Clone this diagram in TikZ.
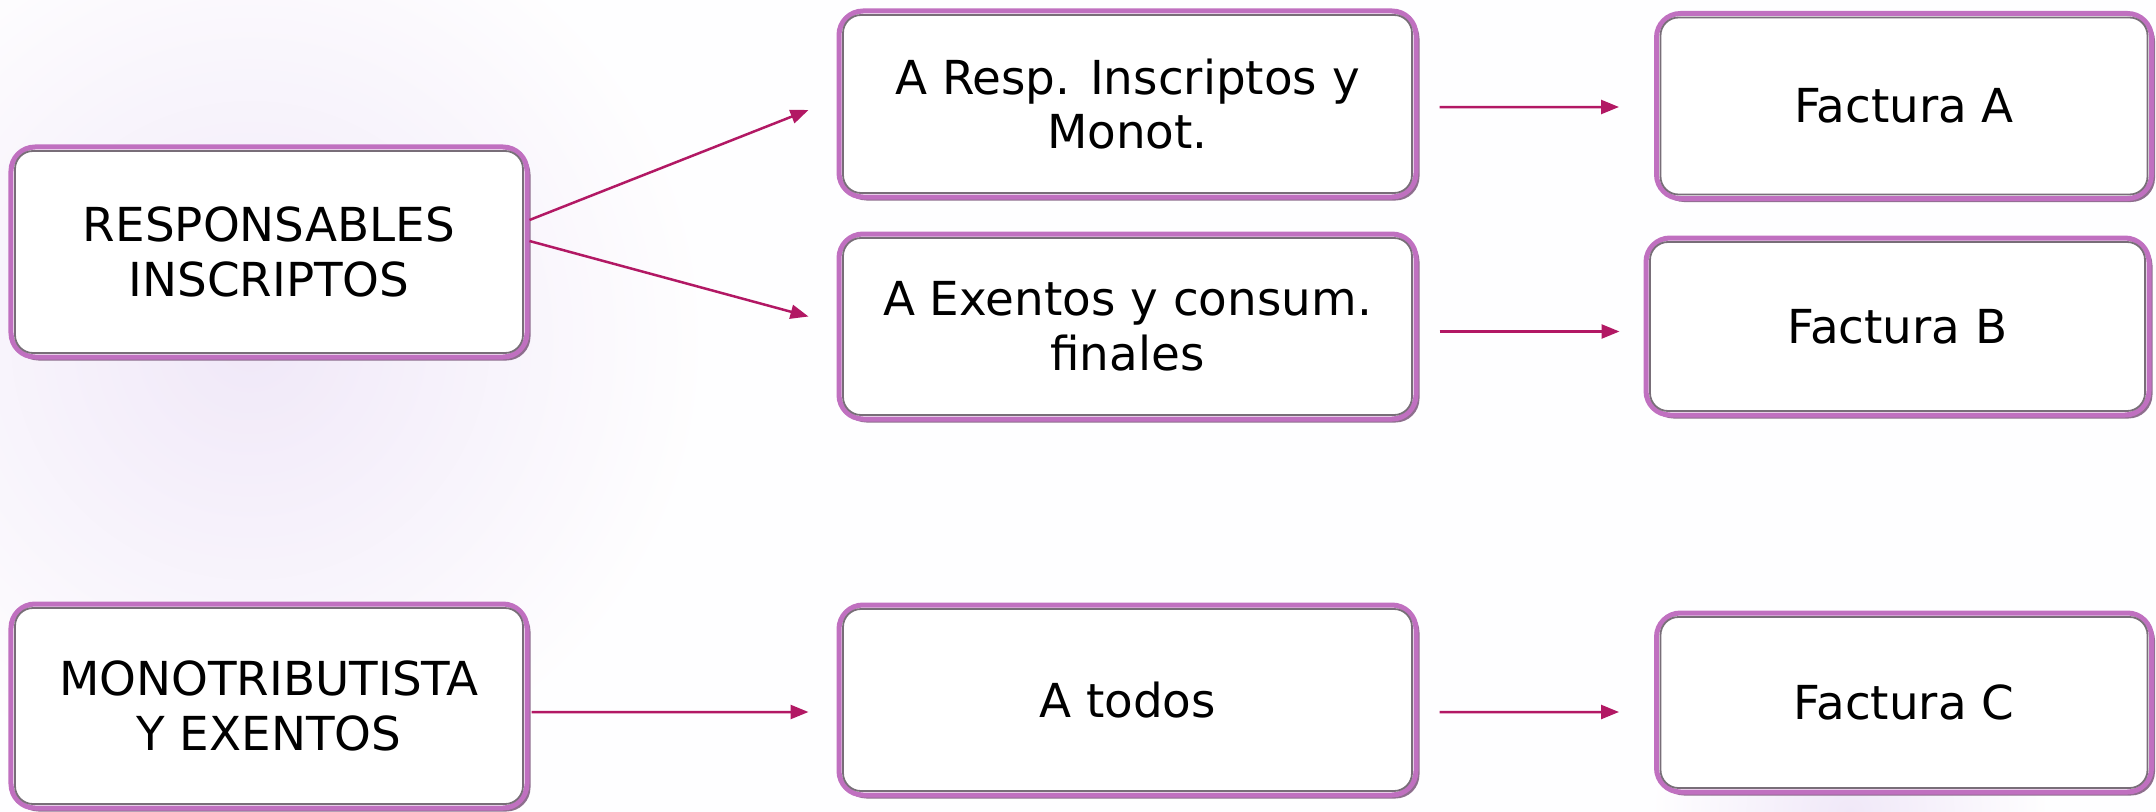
\documentclass[tikz,border=0pt]{standalone}
\usepackage{fontspec}
\setmainfont{DejaVu Sans}
\usetikzlibrary{arrows.meta,shadows}
\definecolor{arrowc}{RGB}{178,24,100}
\definecolor{boxpurple}{RGB}{192,112,192}
\definecolor{shadowc}{RGB}{130,95,130}
\definecolor{innergray}{RGB}{120,110,120}
\definecolor{glow}{RGB}{240,232,248}
\tikzset{
  box/.style={draw=boxpurple, line width=5bp, fill=white, rounded corners=24bp,
    align=center, inner sep=0pt, font=\fontsize{47}{55}\selectfont,
    drop shadow={shadow xshift=3.5bp, shadow yshift=-3.5bp, fill=shadowc, opacity=0.9}},
  arr/.style={draw=arrowc, line width=2.5bp, -{Triangle[length=18bp,width=14bp]}},
  inline/.style={draw=innergray, line width=1.8bp, rounded corners=18bp}
}
\begin{document}
\begin{tikzpicture}[x=1bp,y=-1bp]
\useasboundingbox (0,0) rectangle (2156,812);
\fill[white!96!glow] (0,0) rectangle (2156,812);
\shade[inner color=glow, outer color=white!96!glow] (250,340) circle (460);
\shade[inner color=glow, outer color=white!96!glow] (1850,812) circle (200);

\node[box, minimum width=516bp, minimum height=210bp] (b1) at (269,252) {RESPONSABLES\\INSCRIPTOS};
\node[box, minimum width=577bp, minimum height=186bp] (b2) at (1127.5,104) {A Resp. Inscriptos y\\Monot.};
\node[box, minimum width=495bp, minimum height=185bp] (b3) at (1904,106) {Factura A};
\node[box, minimum width=577bp, minimum height=185bp] (b4) at (1127.5,326.5) {A Exentos y consum.\\finales};
\node[box, minimum width=503bp, minimum height=177bp] (b5) at (1897.5,326.5) {Factura B};
\node[box, minimum width=516bp, minimum height=204bp] (b6) at (269,706) {MONOTRIBUTISTA\\Y EXENTOS};
\node[box, minimum width=577bp, minimum height=190bp] (b7) at (1127.5,700) {A todos};
\node[box, minimum width=495bp, minimum height=179bp] (b8) at (1904,702.5) {Factura C};

\foreach \n in {b1,b2,b3,b4,b5,b6,b7,b8}{
  \draw[inline] ([xshift=6.5bp,yshift=-6.5bp]\n.north west) rectangle ([xshift=-6.5bp,yshift=6.5bp]\n.south east);
}

\draw[arr] ([yshift=32bp]b1.east) -- ([xshift=-28bp,yshift=-6bp]b2.west);
\draw[arr] ([yshift=11bp]b1.east) -- ([xshift=-28bp,yshift=10bp]b4.west);
\draw[arr] ([xshift=21bp,yshift=-3bp]b2.east) -- ([xshift=-35bp,yshift=-1bp]b3.west);
\draw[arr] ([xshift=21bp,yshift=-5bp]b4.east) -- ([xshift=-24bp,yshift=-5bp]b5.west);
\draw[arr] ([xshift=2bp,yshift=-6bp]b6.east) -- ([xshift=-28bp,yshift=-12bp]b7.west);
\draw[arr] ([xshift=21bp,yshift=-12bp]b7.east) -- ([xshift=-35bp,yshift=-9.5bp]b8.west);
\end{tikzpicture}
\end{document}
